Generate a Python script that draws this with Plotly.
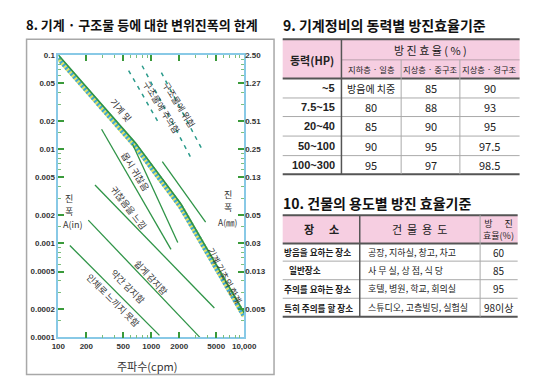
import numpy as np
import plotly.graph_objects as go

W, H = 540, 391
FONT = "Noto Sans CJK KR, Noto Sans, sans-serif"
LATIN = "Liberation Sans, Arial, sans-serif"


def px(x):
    return x / W


def py(y):
    return 1 - y / H


# ---------------- chart data ----------------
freq_ticks = [100, 200, 500, 1000, 2000, 5000, 10000]
freq_labels = ["100", "200", "500", "1000", "2000", "5000", "10,000"]
amp_in_ticks = [0.1, 0.05, 0.02, 0.01, 0.005, 0.002, 0.001, 0.0005, 0.0002, 0.0001]
amp_in_labels = ["0.1", "0.05", "0.02", "0.01", "0.005", "0.002", "0.001", "0.0005", "0.0002", "0.0001"]
amp_mm_labels = ["2.50", "1.27", "0.51", "0.25", "0.13", "0.05", "0.03", "0.013", "0.005"]

# hatched limit line (machines / machine foundations)
limit_freq = [100, 675, 2070, 10000]
limit_amp = [0.1, 0.01165, 0.00264, 0.000182]

# solid zone boundary lines
line_freq = [
    [133, 1225],
    [210, 3335],
    [248, 4776],
    [292, 1630],
    [628, 1928],
    [1315, 3846],
]
line_amp = [
    [0.000946, 0.000105],
    [0.00176, 0.0001],
    [0.00416, 0.000205],
    [0.01626, 0.000859],
    [0.01135, 0.001016],
    [0.00738, 0.00168],
]

# dashed structure lines
dash_freq = [[571, 1225], [798, 2630], [1285, 3580]]
dash_amp = [[0.0683, 0.01833], [0.0769, 0.00832], [0.065, 0.00962]]

zone_labels = ["기계 및", "구조물에 주의함", "구조물에 위험", "몹시 귀찮음", "귀찮음을 느낌",
               "쉽게 감지함", "약간 감지함", "인체로 느끼지 못함", "기계 기초의 한계"]

# ---------------- table 9 data ----------------
t9_title = "9. 기계정비의 동력별 방진효율기준"
t9_head_power = "동력(HP)"
t9_head_eff = "방 진 효 율 ( % )"
t9_sub = ["지하층 · 일층", "지상층 · 중구조", "지상층 · 경구조"]
t9_power = ["~5", "7.5~15", "20~40", "50~100", "100~300"]
t9_under = ["방음에 치중", "80", "85", "90", "95"]
t9_heavy = ["85", "88", "90", "95", "97"]
t9_light = ["90", "93", "95", "97.5", "98.5"]

# ---------------- table 10 data ----------------
t10_title = "10. 건물의 용도별 방진 효율기준"
t10_head = ["장      소", "건  물  용  도", "방      진<br>효율(%)"]
t10_place = ["방음을 요하는 장소", "일반장소", "주의를 요하는 장소", "특히 주의를 할 장소"]
t10_use = ["공장, 지하실, 창고, 차고", "사 무 실, 상 점, 식 당", "호텔, 병원, 학교, 회의실", "스튜디오, 고층빌딩, 실험실"]
t10_eff = ["60", "85", "95", "98이상"]

chart_title = "8. 기계 · 구조물 등에 대한 변위진폭의 한계"

fig = go.Figure()

GREEN = "#2f9447"
# hatched limit: yellow base + blue dashes below a green line
off = 10 ** (-3.2 / 96.3)
hatch_y = [a * off for a in limit_amp]
fig.add_trace(go.Scatter(x=limit_freq, y=hatch_y, mode="lines",
                         line=dict(color="#dfe36a", width=5), hoverinfo="skip", showlegend=False))
fig.add_trace(go.Scatter(x=limit_freq, y=hatch_y, mode="lines",
                         line=dict(color="#3fa6d6", width=5, dash="2px,2px"), hoverinfo="skip", showlegend=False))
fig.add_trace(go.Scatter(x=limit_freq, y=limit_amp, mode="lines",
                         line=dict(color=GREEN, width=1.6), hoverinfo="skip", showlegend=False))

for fx, ay in zip(line_freq, line_amp):
    fig.add_trace(go.Scatter(x=fx, y=ay, mode="lines", line=dict(color=GREEN, width=1.3),
                             hoverinfo="skip", showlegend=False))

for fx, ay in zip(dash_freq, dash_amp):
    fig.add_trace(go.Scatter(x=fx, y=ay, mode="lines",
                             line=dict(color="#2a9a8a", width=1.5, dash="4px,5px"),
                             hoverinfo="skip", showlegend=False))

# invisible trace for the right (mm) axis
fig.add_trace(go.Scatter(x=[freq_ticks[0]], y=[amp_in_ticks[0]], yaxis="y2", mode="markers",
                         marker=dict(opacity=0), hoverinfo="skip", showlegend=False))

minor_x = [m * 10 ** k for k in (2, 3) for m in (3, 4, 6, 7, 8, 9)]
minor_y = [m * 10 ** k for k in (-4, -3, -2) for m in (1.5, 3, 4, 6, 7, 8, 9)]

axis_common = dict(ticks="inside", ticklen=6, tickwidth=1.5, tickcolor="#3a9a3a",
                   showline=True, linecolor="#88c9e6", linewidth=1.5, showgrid=False,
                   zeroline=False, tickfont=dict(size=8, color="#333", family=LATIN))

fig.update_layout(
    width=W, height=H, margin=dict(l=0, r=0, t=0, b=0),
    paper_bgcolor="white", plot_bgcolor="white", showlegend=False,
    xaxis=dict(type="log", range=[2, 4], domain=[px(45), px(238)], anchor="y",
               tickmode="array", tickvals=freq_ticks, ticktext=[f"<b>{t}</b>" for t in freq_labels],
               mirror="ticks",
               minor=dict(tickmode="array", tickvals=minor_x, ticks="inside", ticklen=3,
                          tickcolor="#7cbf7c", tickwidth=1),
               **axis_common),
    yaxis=dict(type="log", range=[-4, -1], domain=[py(333), py(44)], anchor="x",
               tickmode="array", tickvals=amp_in_ticks, ticktext=[f"<b>{t}</b>" for t in amp_in_labels],
               mirror="ticks",
               minor=dict(tickmode="array", tickvals=minor_y, ticks="inside", ticklen=3,
                          tickcolor="#7cbf7c", tickwidth=1),
               **axis_common),
    yaxis2=dict(type="log", range=[-4, -1], overlaying="y", side="right", anchor="x",
                tickmode="array", tickvals=amp_in_ticks[:len(amp_mm_labels)],
                ticktext=[f"<b>{t}</b>" for t in amp_mm_labels],
                ticks="", showline=False, showgrid=False, zeroline=False,
                tickfont=dict(size=8, color="#333", family=LATIN)),
)

ann = []
shapes = []


def txt(x, y, s, size=10, bold=False, xanchor="center", color="#222", angle=0, family=FONT):
    ann.append(dict(x=px(x), y=py(y), xref="paper", yref="paper",
                    text=f"<b>{s}</b>" if bold else s, showarrow=False, textangle=angle,
                    font=dict(size=size, family=family, color=color),
                    xanchor=xanchor, yanchor="middle", borderpad=0))


def hline(x0, x1, y, color="#999", width=1):
    shapes.append(dict(type="line", xref="paper", yref="paper", x0=px(x0), x1=px(x1),
                       y0=py(y), y1=py(y), line=dict(color=color, width=width)))


def vline(x, y0, y1, color="#999", width=1):
    shapes.append(dict(type="line", xref="paper", yref="paper", x0=px(x), x1=px(x),
                       y0=py(y0), y1=py(y1), line=dict(color=color, width=width)))


# chart frame
shapes.append(dict(type="rect", xref="paper", yref="paper", x0=px(12), x1=px(269),
                   y0=py(371), y1=py(28), line=dict(color="#a8a8a8", width=1.5)))

# zone labels inside the chart (positions in log data space)
label_pos = [(2.674, -1.592, 50), (3.109, -1.561, 58), (3.295, -1.529, 58),
             (2.829, -2.235, 58), (2.756, -2.619, 52), (2.995, -3.367, 47),
             (2.746, -3.460, 45), (2.591, -3.606, 45), (3.790, -3.340, 62)]
for s, (lx, ly, ang) in zip(zone_labels, label_pos):
    ann.append(dict(x=lx, y=ly, xref="x", yref="y", text=s, showarrow=False, textangle=ang,
                    font=dict(size=9, family=FONT, color="#333"), borderpad=0))

# axis titles
txt(56, 191, "진", 9, color="#333")
txt(56, 204, "폭", 9, color="#333")
txt(60, 218, "A(in)", 9, color="#333")
txt(221, 187, "진", 9, color="#333")
txt(221, 200, "폭", 9, color="#333")
txt(221, 215, "A(㎜)", 8.5, color="#333")
txt(137, 362, "주파수(cpm)", 11, color="#333")

# titles
txt(10, 13, chart_title, 13, bold=True, xanchor="left", color="#111")
txt(277, 13, t9_title, 14, bold=True, xanchor="left", color="#111")
txt(277, 196, t10_title, 14, bold=True, xanchor="left", color="#111")

PINK = "#f6cee1"
DARK = "#555555"

# ---------------- table 9 ----------------
X9 = [278, 339, 401, 462, 524]
Y9 = [28, 49, 68, 88, 107, 127, 147, 166]
shapes.append(dict(type="rect", xref="paper", yref="paper", x0=px(X9[0]), x1=px(X9[-1]),
                   y0=py(Y9[2]), y1=py(Y9[0]), fillcolor=PINK, line=dict(width=0), layer="below"))
hline(X9[0], X9[-1], Y9[0], DARK, 2)
hline(X9[1], X9[-1], Y9[1], "#b9a0ad", 1)
hline(X9[0], X9[-1], Y9[2], DARK, 2)
for r in range(3, len(Y9) - 1):
    hline(X9[0], X9[-1], Y9[r], "#aaaaaa", 1)
hline(X9[0], X9[-1], Y9[-1], DARK, 2)
vline(X9[1], Y9[0], Y9[-1], DARK, 1.5)
for c in (2, 3):
    vline(X9[c], Y9[1], Y9[-1], "#aaaaaa", 1)

txt((X9[0] + X9[1]) / 2, Y9[1], t9_head_power, 11, bold=True)
txt((X9[1] + X9[-1]) / 2, (Y9[0] + Y9[1]) / 2, t9_head_eff, 11)
for c, s in enumerate(t9_sub):
    txt((X9[c + 1] + X9[c + 2]) / 2, (Y9[1] + Y9[2]) / 2, s, 8.3)
for r in range(len(t9_power)):
    yc = (Y9[r + 2] + Y9[r + 3]) / 2
    txt(X9[1] - 6, yc, t9_power[r], 11, bold=True, xanchor="right", family=LATIN)
    txt((X9[1] + X9[2]) / 2, yc, t9_under[r], 11 if t9_under[r].replace('.', '').isdigit() else 10)
    txt((X9[2] + X9[3]) / 2, yc, t9_heavy[r], 11)
    txt((X9[3] + X9[4]) / 2, yc, t9_light[r], 11)

# ---------------- table 10 ----------------
X10 = [278, 358, 483, 522]
Y10 = [208, 237, 255, 274, 293, 312]
shapes.append(dict(type="rect", xref="paper", yref="paper", x0=px(X10[0]), x1=px(X10[-1]),
                   y0=py(Y10[1]), y1=py(Y10[0]), fillcolor=PINK, line=dict(width=0), layer="below"))
hline(X10[0], X10[-1], Y10[0], DARK, 2)
hline(X10[0], X10[-1], Y10[1], DARK, 2)
for r in range(2, len(Y10) - 1):
    hline(X10[0], X10[-1], Y10[r], "#aaaaaa", 1)
hline(X10[0], X10[-1], Y10[-1], DARK, 2)
vline(X10[1], Y10[0], Y10[-1], DARK, 1.5)
vline(X10[2], Y10[0], Y10[-1], "#aaaaaa", 1)

hy = (Y10[0] + Y10[1]) / 2
txt((X10[0] + X10[1]) / 2, hy, t10_head[0], 11, bold=True)
txt((X10[1] + X10[2]) / 2, hy, t10_head[1], 11)
txt((X10[2] + X10[3]) / 2, hy, t10_head[2], 9)
for r in range(len(t10_place)):
    yc = (Y10[r + 1] + Y10[r + 2]) / 2
    txt(X10[0] + (6 if r == 1 else 0), yc, t10_place[r], 8.6, bold=True, xanchor="left")
    txt(X10[1] + 8, yc, t10_use[r], 9, xanchor="left")
    txt((X10[2] + X10[3]) / 2, yc, t10_eff[r], 10)

fig.update_layout(annotations=ann, shapes=shapes)
fig.write_html("out.html")
